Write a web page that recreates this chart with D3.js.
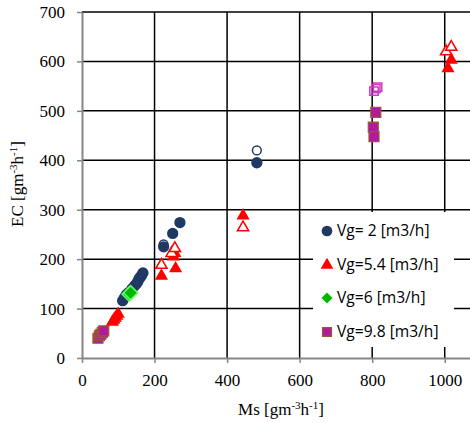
<!DOCTYPE html>
<html>
<head>
<meta charset="utf-8">
<script src="https://cdn.jsdelivr.net/npm/d3@7"></script>
<style>
  body { margin: 0; background: #fff; }
  svg { display: block; }
  .tick text { font-family: "Liberation Serif", serif; font-size: 17px; fill: #000; }
  .axis-title { font-family: "Liberation Serif", serif; font-size: 17px; fill: #000; }
  .legend text { font-family: "Open Sans", sans-serif; font-size: 15.6px; fill: #000; }
</style>
</head>
<body>
<svg class="chart"></svg>
<script>
var WIDTH = 470;
var HEIGHT = 423;

// x range goes past the right edge, picture is cropped there
var X_LEFT = 82, X_RIGHT = 481;
var Y_TOP = 12, Y_BOTTOM = 358;

var xTicks = [0, 200, 400, 600, 800, 1000];
var yTicks = [0, 100, 200, 300, 400, 500, 600, 700];

var seriesNames = ["Vg= 2 [m3/h]", "Vg=5.4 [m3/h]", "Vg=6 [m3/h]", "Vg=9.8 [m3/h]"];

// Vg = 2
var vg2Ms = [112, 117, 122, 128, 138, 145, 150, 154, 157, 160, 164, 168, 225, 250, 270, 482];
var vg2EC = [116, 122, 128, 132, 140, 146, 150, 155, 160, 163, 167, 172, 225, 252, 274, 395];
var vg2OpenMs = [225, 482];
var vg2OpenEC = [230, 420];

// Vg = 5.4
var vg54Ms = [84, 88, 92, 96, 100, 219, 252, 256, 258, 444, 1009, 1018];
var vg54EC = [73, 77, 81, 85, 89, 166, 205, 212, 181, 288, 586, 603];
var vg54OpenMs = [219, 247, 256, 444, 1004, 1018];
var vg54OpenEC = [188, 212, 222, 264, 620, 629];

// Vg = 6
var vg6Ms = [130, 134];
var vg6EC = [129, 132];

// Vg = 9.8
var vg98Ms = [44, 48, 52, 56, 60, 810, 803, 805];
var vg98EC = [40, 45, 48, 52, 55, 497, 467, 448];
var vg98OpenMs = [805, 810, 815];
var vg98OpenEC = [540, 545, 548];

function pairs(xs, ys) {
    return xs.map(function(v, i) { return [v, ys[i]]; });
}

var plot = d3.select(".chart")
    .attr("width", WIDTH)
    .attr("height", HEIGHT);

var x = d3.scaleLinear().domain([0, 1100]).range([X_LEFT, X_RIGHT]);
var y = d3.scaleLinear().domain([0, 700]).range([Y_BOTTOM, Y_TOP]);

// grid lines
plot.append("g")
    .selectAll("line.vgrid")
    .data(xTicks.filter(function(d) { return d > 0; }))
    .enter().append("line")
    .attr("x1", function(d) { return x(d); })
    .attr("x2", function(d) { return x(d); })
    .attr("y1", y(700))
    .attr("y2", y(0))
    .attr("stroke", "#000")
    .attr("stroke-width", 1.5);

plot.append("g")
    .selectAll("line.hgrid")
    .data(yTicks.filter(function(d) { return d > 0; }))
    .enter().append("line")
    .attr("x1", x(0))
    .attr("x2", x(1100))
    .attr("y1", function(d) { return y(d); })
    .attr("y2", function(d) { return y(d); })
    .attr("stroke", "#000")
    .attr("stroke-width", 1.5);

// axes
var xAxis = plot.append("g")
    .attr("transform", "translate(0," + Y_BOTTOM + ")")
    .call(d3.axisBottom(x).tickValues(xTicks).tickFormat(d3.format("d"))
        .tickSize(5).tickPadding(11).tickSizeOuter(0));

var yAxis = plot.append("g")
    .attr("transform", "translate(" + X_LEFT + ",0)")
    .call(d3.axisLeft(y).tickValues(yTicks).tickFormat(d3.format("d"))
        .tickSize(5).tickPadding(12).tickSizeOuter(0));

[xAxis, yAxis].forEach(function(a) {
    a.select(".domain").attr("stroke", "#868686").attr("stroke-width", 2);
    a.selectAll(".tick line").attr("stroke", "#868686").attr("stroke-width", 1.5);
});

// axis titles
var xt = plot.append("text")
    .attr("class", "axis-title")
    .attr("text-anchor", "middle")
    .attr("x", 281)
    .attr("y", 415);
xt.append("tspan").text("Ms [gm");
xt.append("tspan").attr("font-size", "11px").attr("dy", -6).text("-3");
xt.append("tspan").attr("dy", 6).text("h");
xt.append("tspan").attr("font-size", "11px").attr("dy", -6).text("-1");
xt.append("tspan").attr("dy", 6).text("]");

var yt = plot.append("text")
    .attr("class", "axis-title")
    .attr("text-anchor", "middle")
    .attr("transform", "translate(23,184) rotate(-90)");
yt.append("tspan").text("EC [gm");
yt.append("tspan").attr("font-size", "11px").attr("dy", -6).text("-3");
yt.append("tspan").attr("dy", 6).text("h");
yt.append("tspan").attr("font-size", "11px").attr("dy", -6).text("-1");
yt.append("tspan").attr("dy", 6).text("]");

// markers
var NAVY = "#1f3864";
var RED = "#ff0000";
var GREEN = "#00b800";
var PURPLE = "#b3199e";
var BROWN = "#9c5a2a";

var circleSym = d3.symbol().type(d3.symbolCircle).size(100);
var triSym = d3.symbol().type(d3.symbolTriangle).size(75);
var diamondSym = d3.symbol().type(d3.symbolSquare).size(100);
var squareSym = d3.symbolSquare;

function drawPoints(data, sym, fill, stroke, sw, rot) {
    plot.append("g")
        .selectAll("path")
        .data(data)
        .enter().append("path")
        .attr("d", sym)
        .attr("transform", function(d) {
            return "translate(" + x(d[0]) + "," + y(d[1]) + ")" + (rot ? " rotate(" + rot + ")" : "");
        })
        .attr("fill", fill)
        .attr("stroke", stroke)
        .attr("stroke-width", sw);
}

drawPoints(pairs(vg98Ms, vg98EC), d3.symbol().type(squareSym).size(100), PURPLE, BROWN, 1.2);
drawPoints(pairs(vg98OpenMs, vg98OpenEC), d3.symbol().type(squareSym).size(70), "none", "#c63fc0", 1.5);
drawPoints(pairs(vg54Ms, vg54EC), triSym, RED, "none", 0);
drawPoints(pairs(vg54OpenMs, vg54OpenEC), d3.symbol().type(d3.symbolTriangle).size(55), "#fff", RED, 1.5);
drawPoints(pairs(vg2Ms, vg2EC), circleSym, NAVY, "none", 0);
drawPoints(pairs(vg2OpenMs, vg2OpenEC), d3.symbol().type(d3.symbolCircle).size(60), "none", NAVY, 1.5);
drawPoints(pairs(vg6Ms, vg6EC), diamondSym, GREEN, "#66ff66", 1.5, 45);

// legend
var legend = plot.append("g").attr("class", "legend");
legend.append("rect")
    .attr("x", 313).attr("y", 212)
    .attr("width", 141).attr("height", 135)
    .attr("fill", "#fff");

var legendSyms = [
    { sym: d3.symbol().type(d3.symbolCircle).size(90), fill: NAVY, stroke: "none", rot: 0 },
    { sym: d3.symbol().type(d3.symbolTriangle).size(70), fill: RED, stroke: "none", rot: 0 },
    { sym: d3.symbol().type(d3.symbolSquare).size(60), fill: GREEN, stroke: "none", rot: 45 },
    { sym: d3.symbol().type(d3.symbolSquare).size(80), fill: PURPLE, stroke: BROWN, rot: 0 }
];
var legendY = [231, 265, 298, 332];

legend.selectAll("g.item")
    .data(seriesNames)
    .enter().append("g")
    .attr("transform", function(d, i) { return "translate(327," + legendY[i] + ")"; })
    .each(function(d, i) {
        var s = legendSyms[i];
        d3.select(this).append("path")
            .attr("d", s.sym)
            .attr("transform", s.rot ? "rotate(" + s.rot + ")" : null)
            .attr("fill", s.fill)
            .attr("stroke", s.stroke)
            .attr("stroke-width", 1.2);
        d3.select(this).append("text")
            .attr("x", 10)
            .attr("y", 5)
            .text(d);
    });
</script>
</body>
</html>
